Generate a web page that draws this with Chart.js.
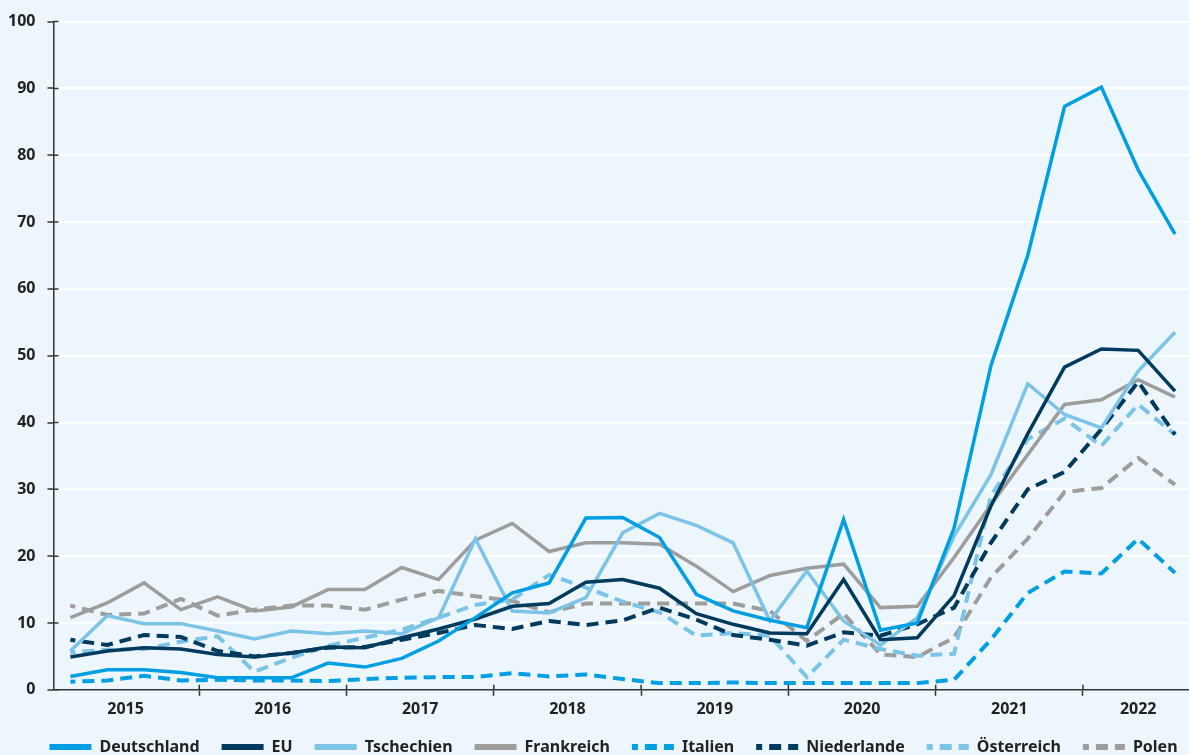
<!DOCTYPE html>
<html lang="de">
<head>
<meta charset="utf-8">
<script src="https://cdn.jsdelivr.net/npm/chart.js@4"></script>
<style>
    html, body { margin: 0; padding: 0; background: #eef6fd; }
    #wrap { width: 1189px; height: 755px; position: relative; }
</style>
</head>
<body>
<div id="wrap"><canvas id="chart"></canvas></div>
<script>
// --- DATI (trimestri 2015 Q1 - 2022 Q3) ---
const years = ['2015', '2016', '2017', '2018', '2019', '2020', '2021', '2022'];
const quarters = years.flatMap(y => ['Q1', 'Q2', 'Q3', 'Q4'].map(q => y + ' ' + q)).slice(0, 31);

const deutschland = [2.0, 3.0, 3.0, 2.6, 1.8, 1.8, 1.8, 4.0, 3.4, 4.7, 7.3, 10.8, 14.5, 16.0, 25.7, 25.8,
    22.8, 14.3, 11.8, 10.4, 9.3, 25.5, 8.9, 10.0, 24.2, 48.5, 65.0, 87.3, 90.2, 77.8, 68.2];
const eu = [4.9, 5.8, 6.3, 6.1, 5.3, 4.9, 5.5, 6.4, 6.3, 7.8, 9.1, 10.6, 12.5, 12.9, 16.1, 16.5,
    15.2, 11.4, 9.8, 8.5, 8.4, 16.5, 7.5, 7.8, 14.1, 27.5, 38.3, 48.3, 51.0, 50.8, 44.7];
const tschechien = [5.8, 11.1, 9.9, 9.9, 8.8, 7.6, 8.8, 8.4, 8.8, 8.4, 10.8, 22.6, 11.8, 11.5, 13.8, 23.5,
    26.4, 24.6, 22.0, 10.3, 17.8, 10.3, 6.7, 10.8, 23.0, 32.2, 45.8, 41.2, 39.2, 47.7, 53.5];
const frankreich = [10.8, 13.0, 16.0, 12.0, 13.9, 11.8, 12.4, 15.0, 15.0, 18.3, 16.5, 22.4, 24.9, 20.7, 22.0, 22.0,
    21.8, 18.5, 14.7, 17.1, 18.2, 18.8, 12.3, 12.5, 19.8, 27.7, 35.2, 42.7, 43.4, 46.4, 43.8];
const italien = [1.2, 1.4, 2.1, 1.4, 1.5, 1.4, 1.4, 1.3, 1.6, 1.8, 1.9, 1.9, 2.5, 2.0, 2.3, 1.6,
    1.0, 1.0, 1.1, 1.0, 1.0, 1.0, 1.0, 1.0, 1.5, 7.5, 14.5, 17.7, 17.4, 22.6, 17.5];
const niederlande = [7.5, 6.7, 8.2, 7.9, 5.8, 5.0, 5.5, 6.3, 6.4, 7.5, 8.5, 9.7, 9.1, 10.3, 9.7, 10.4,
    12.3, 10.5, 8.2, 7.5, 6.6, 8.6, 8.1, 9.8, 12.3, 22.0, 30.0, 32.6, 39.0, 46.1, 38.2];
const oesterreich = [5.6, 6.0, 6.1, 7.2, 8.0, 2.7, 4.8, 6.6, 7.8, 9.0, 10.8, 12.7, 13.5, 17.2, 15.3, 13.2,
    11.6, 8.1, 8.5, 8.1, 1.9, 7.5, 6.1, 5.1, 5.4, 29.0, 37.5, 40.6, 36.5, 42.7, 38.2];
const polen = [12.6, 11.2, 11.4, 13.6, 11.1, 12.0, 12.6, 12.6, 12.0, 13.5, 14.8, 14.0, 13.3, 11.6, 12.9, 12.9,
    12.9, 12.9, 12.9, 11.8, 7.3, 11.4, 5.3, 4.9, 7.8, 16.8, 22.6, 29.6, 30.2, 34.7, 30.7];

const yTicks = [0, 10, 20, 30, 40, 50, 60, 70, 80, 90, 100];

// --- COLORI ---
const BLU = '#009fe3';
const NAVY = '#003a5d';
const CELESTE = '#7cc3e8';
const GRIGIO = '#9d9d9c';
const ASSE = '#333333';

function serie(label, valori, colore, tratteggiato) {
    return {
        label: label,
        data: valori.map((v, i) => ({ x: i, y: v })),
        borderColor: colore,
        backgroundColor: colore,
        borderWidth: tratteggiato ? 4 : 3.5,
        borderDash: tratteggiato ? [12, 7] : [],
        borderDashOffset: tratteggiato ? 7 : 0,
        pointRadius: 0,
        tension: 0,
        fill: false
    };
}

// posizioni asse x: centro di ogni anno (etichetta) e confini tra anni (tacca)
const centriAnni = years.map((y, k) => k < years.length - 1 ? k * 4 + 1.5 : k * 4 + 1);
const confiniAnni = years.slice(1).map((y, k) => k * 4 + 3.5);

const fontTick = { family: '"Noto Sans", sans-serif', size: 16, weight: 'bold' };

// tacche che attraversano gli assi + piccolo spostamento della legenda
const ritocchi = {
    id: 'ritocchi',
    afterLayout(chart) {
        const lg = chart.legend;
        lg.left += 21; lg.right += 21;
        lg.top -= 6; lg.bottom -= 6;
    },
    afterDatasetsDraw(chart) {
        const { ctx, scales: { x, y } } = chart;
        ctx.save();
        ctx.strokeStyle = ASSE;
        ctx.lineWidth = 1.5;
        ctx.beginPath();
        yTicks.forEach(v => {
            const py = y.getPixelForValue(v);
            ctx.moveTo(x.left, py);
            ctx.lineTo(x.left + 5, py);
        });
        confiniAnni.forEach(v => {
            const px = x.getPixelForValue(v);
            ctx.moveTo(px, y.bottom);
            ctx.lineTo(px, y.bottom - 5);
        });
        ctx.stroke();
        ctx.restore();
    }
};

new Chart(document.getElementById('chart'), {
    type: 'line',
    data: {
        datasets: [
            serie('Deutschland', deutschland, BLU, false),
            serie('EU', eu, NAVY, false),
            serie('Tschechien', tschechien, CELESTE, false),
            serie('Frankreich', frankreich, GRIGIO, false),
            serie('Italien', italien, BLU, true),
            serie('Niederlande', niederlande, NAVY, true),
            serie('Österreich', oesterreich, CELESTE, true),
            serie('Polen', polen, GRIGIO, true)
        ]
    },
    options: {
        responsive: true,
        maintainAspectRatio: false,
        animation: false,
        layout: { padding: { top: 11, left: -4, right: 0, bottom: -16 } },
        scales: {
            x: {
                type: 'linear',
                min: -0.46,
                max: 30.38,
                afterBuildTicks: (scale) => {
                    scale.ticks = centriAnni.concat(confiniAnni)
                        .sort((a, b) => a - b)
                        .map(v => ({ value: v }));
                },
                ticks: {
                    autoSkip: false,
                    maxRotation: 0,
                    padding: 4,
                    color: '#222',
                    font: fontTick,
                    callback: (v) => {
                        const k = centriAnni.indexOf(v);
                        return k >= 0 ? years[k] : '';
                    }
                },
                grid: {
                    drawOnChartArea: false,
                    tickLength: 6,
                    tickWidth: 1.5,
                    tickColor: (ctx) => confiniAnni.includes(ctx.tick && ctx.tick.value) ? ASSE : 'rgba(0,0,0,0)'
                },
                border: { color: ASSE, width: 1.5 }
            },
            y: {
                min: 0,
                max: 100,
                afterBuildTicks: (scale) => { scale.ticks = yTicks.map(v => ({ value: v })); },
                ticks: {
                    padding: 12,
                    color: '#222',
                    font: fontTick
                },
                grid: {
                    color: '#ffffff',
                    lineWidth: (ctx) => ctx.tick && ctx.tick.value === 0 ? 0 : 2,
                    tickColor: ASSE,
                    tickWidth: 1.5,
                    tickLength: 6
                },
                border: { color: ASSE, width: 1.5 }
            }
        },
        plugins: {
            legend: {
                position: 'bottom',
                labels: {
                    usePointStyle: true,
                    pointStyleWidth: 42,
                    boxHeight: 14,
                    padding: 22,
                    color: '#222',
                    font: { family: '"Noto Sans", sans-serif', size: 16, weight: 'bold' },
                    generateLabels: (chart) => chart.data.datasets.map((ds, i) => ({
                        text: ds.label,
                        fillStyle: ds.borderColor,
                        strokeStyle: ds.borderColor,
                        fontColor: '#222',
                        lineWidth: 6,
                        lineDash: ds.borderDash.length ? [12, 7] : [],
                        lineDashOffset: ds.borderDash.length ? 6 : 0,
                        pointStyle: 'line',
                        hidden: false,
                        datasetIndex: i
                    }))
                }
            },
            tooltip: { enabled: false }
        }
    },
    plugins: [ritocchi]
});
</script>
</body>
</html>
